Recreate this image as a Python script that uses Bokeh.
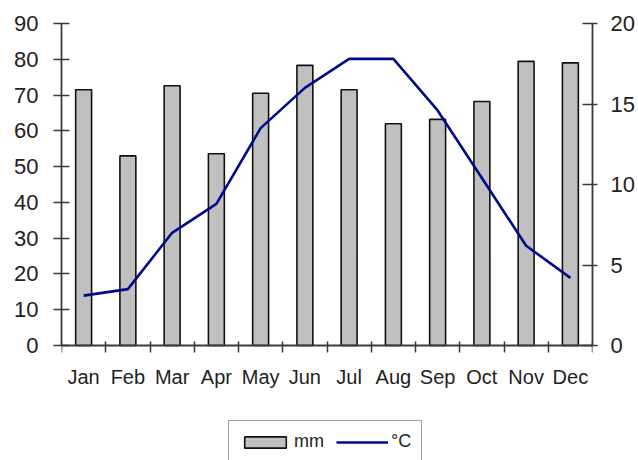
from bokeh.plotting import figure
from bokeh.models import Range1d, LinearAxis, FixedTicker, Legend, ColumnDataSource
from bokeh.embed import file_html
from bokeh.resources import INLINE

months = ["Jan", "Feb", "Mar", "Apr", "May", "Jun", "Jul", "Aug", "Sep", "Oct", "Nov", "Dec"]
precip_mm = [71.5, 53.0, 72.6, 53.6, 70.5, 78.3, 71.5, 62.0, 63.2, 68.2, 79.4, 79.0]
temp_c = [3.1, 3.5, 7.0, 8.8, 13.5, 16.0, 17.8, 17.8, 14.6, 10.4, 6.2, 4.2]
left_ticks = [0, 10, 20, 30, 40, 50, 60, 70, 80, 90]
right_ticks = [0, 5, 10, 15, 20]

centers = [i + 0.5 for i in range(len(months))]
bounds = list(range(len(months) + 1))
src = ColumnDataSource(dict(x=centers, mm=precip_mm, t=temp_c, m=months))

FONT = "Liberation Sans"
AX = "#3a3a3a"

# plot area: top at 23px, value 0 at 345px, frame continues to the canvas bottom (460px)
H, TOP, ZERO_PX = 460, 23, 345
mm_max, t_max = left_ticks[-1], right_ticks[-1]
px_per_mm = (ZERO_PX - TOP) / mm_max
px_per_t = (ZERO_PX - TOP) / t_max
below_px = H - ZERO_PX

p = figure(width=638, height=H, output_backend="svg", toolbar_location=None,
           x_range=Range1d(0, len(months)),
           y_range=Range1d(-below_px / px_per_mm, mm_max),
           min_border_left=61, min_border_right=46, min_border_top=TOP, min_border_bottom=0)
p.extra_y_ranges = {"temp": Range1d(-below_px / px_per_t, t_max)}
p.outline_line_color = None
p.xgrid.visible = False
p.ygrid.visible = False
p.background_fill_color = "white"
p.border_fill_color = "white"

bars = p.vbar(x="x", top="mm", width=0.36, bottom=0, source=src,
              fill_color="#c0c0c0", line_color="#111111", line_width=1.6)
line = p.line(x="x", y="t", source=src, y_range_name="temp",
              line_color="#000a8c", line_width=2.6)

# x axis (drawn at value 0)
xa = p.xaxis[0]
xa.fixed_location = 0
xa.ticker = FixedTicker(ticks=centers, minor_ticks=bounds)
xa.major_label_overrides = {c: m for c, m in zip(centers, months)}
xa.major_tick_in = 0
xa.major_tick_out = 0
xa.minor_tick_in = 4
xa.minor_tick_out = 7
xa.minor_tick_line_color = AX
xa.minor_tick_line_width = 1.5
xa.axis_line_color = AX
xa.axis_line_width = 1.8
xa.major_label_text_font = FONT
xa.major_label_text_font_size = "20px"
xa.major_label_text_color = "#222222"
xa.major_label_standoff = 13

# left axis
ya = p.yaxis[0]
ya.bounds = (0, mm_max)
ya.ticker = FixedTicker(ticks=left_ticks)
ya.minor_tick_line_color = None
ya.major_tick_in = 8
ya.major_tick_out = 8
ya.major_tick_line_color = AX
ya.major_tick_line_width = 1.5
ya.axis_line_color = AX
ya.axis_line_width = 1.8
ya.major_label_text_font = FONT
ya.major_label_text_font_size = "22px"
ya.major_label_text_color = "#222222"
ya.major_label_standoff = 15

# right axis
ra = LinearAxis(y_range_name="temp", ticker=FixedTicker(ticks=right_ticks), bounds=(0, t_max))
ra.minor_tick_line_color = None
ra.major_tick_in = 10
ra.major_tick_out = 5
ra.major_tick_line_color = AX
ra.major_tick_line_width = 1.5
ra.axis_line_color = AX
ra.axis_line_width = 1.8
ra.major_label_text_font = FONT
ra.major_label_text_font_size = "22px"
ra.major_label_text_color = "#222222"
ra.major_label_standoff = 13
p.add_layout(ra, "right")

legend = Legend(items=[("mm", [bars]), ("°C", [line])], orientation="horizontal",
                location=(167, -3))
legend.glyph_width = 52
legend.glyph_height = 14
legend.padding = 10
legend.spacing = 12
legend.label_standoff = 3
legend.label_text_font = FONT
legend.label_text_font_size = "18px"
legend.label_text_color = "#222222"
legend.border_line_color = "#444444"
legend.border_line_width = 1.6
legend.background_fill_color = "white"
legend.background_fill_alpha = 1.0
p.add_layout(legend, "center")

open("out.html", "w").write(file_html(p, INLINE))
